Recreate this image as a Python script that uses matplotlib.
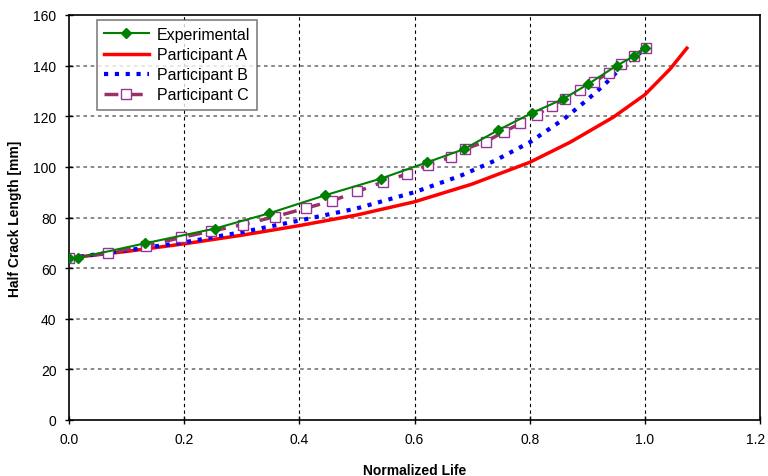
import matplotlib
matplotlib.use("Agg")
import matplotlib.pyplot as plt
import matplotlib.transforms as mtransforms
import numpy as np

plt.rcParams['font.family'] = ['Liberation Sans', 'DejaVu Sans']

# Experimental
exp_x = [0.0, 0.015, 0.132, 0.253, 0.348, 0.445, 0.542, 0.622, 0.686, 0.745, 0.804, 0.858, 0.901, 0.951, 0.981, 1.0]
exp_y = [64.0, 64.0, 69.8, 75.6, 81.7, 88.8, 95.4, 101.8, 107.0, 114.5, 121.3, 126.8, 132.6, 140.0, 143.7, 147.0]

# Participant A
a_x = [0.0, 0.1, 0.2, 0.3, 0.4, 0.5, 0.6, 0.7, 0.8, 0.87, 0.945, 1.0, 1.044, 1.073]
a_y = [64.0, 66.6, 69.6, 73.0, 76.8, 81.0, 86.2, 93.2, 101.8, 109.7, 119.6, 128.5, 138.7, 146.9]

# Participant B
b_x = [0.0, 0.1, 0.2, 0.3, 0.4, 0.5, 0.6, 0.68, 0.74, 0.8, 0.86, 0.9, 0.93, 0.96, 0.98, 1.0]
b_y = [64.0, 67.0, 70.2, 74.2, 78.8, 83.6, 90.0, 96.5, 102.5, 109.7, 119.0, 126.5, 132.5, 139.5, 143.0, 146.5]

# Participant C
c_x = [0.0, 0.067, 0.133, 0.195, 0.247, 0.302, 0.357, 0.412, 0.457, 0.501, 0.546, 0.587, 0.624,
       0.663, 0.688, 0.724, 0.755, 0.784, 0.813, 0.838, 0.862, 0.888, 0.912, 0.937, 0.958, 0.982, 1.002]
c_y = [64.0, 65.9, 68.8, 72.1, 74.6, 77.2, 80.3, 83.7, 86.6, 90.3, 94.1, 97.2, 100.8,
       103.8, 107.1, 110.0, 113.8, 117.2, 120.6, 124.2, 126.8, 130.5, 133.6, 137.2, 140.7, 144.0, 147.0]

x_ticks = [0.0, 0.2, 0.4, 0.6, 0.8, 1.0, 1.2]
y_ticks = [0, 20, 40, 60, 80, 100, 120, 140, 160]

fig = plt.figure(figsize=(7.68, 4.77), dpi=100)
ax = fig.add_axes([69/768, 56/477, 691/768, 405/477])

for xv in x_ticks[1:-1]:
    ax.axvline(xv, color='black', linestyle=(0, (3, 3)), linewidth=0.8, zorder=1)
for yv in y_ticks[1:-1]:
    ax.axhline(yv, color='#808080', linestyle=(0, (2, 2)), linewidth=1.3, zorder=1)

ax.plot(exp_x, exp_y, color='#008000', linewidth=1.5, marker='D', markersize=5.5,
        markerfacecolor='#008000', markeredgecolor='#008000', label='Experimental', zorder=5)
ax.plot(a_x, a_y, color='#FF0000', linewidth=2.5, label='Participant A', zorder=3)
ax.plot(b_x, b_y, color='#0000FF', linewidth=3, linestyle=(0, (1, 1.6)), label='Participant B', zorder=3)
ax.plot(c_x, c_y, color='#993366', linewidth=2.5, linestyle=(0, (4, 3)), marker='s', markersize=7,
        markerfacecolor='white', markeredgecolor='#993399', markeredgewidth=1.0, label='Participant C', zorder=4)

ax.set_xlim(0, 1.2)
ax.set_ylim(0, 160)
ax.set_xticks(x_ticks)
ax.set_xticklabels([f"{v:.1f}" for v in x_ticks])
ax.set_yticks(y_ticks)
ax.tick_params(direction='inout', length=6, width=1, labelsize=10, pad=6)
for s in ax.spines.values():
    s.set_linewidth(1.2)
    s.set_color('black')

# keep last tick label inside the canvas
last = ax.get_xticklabels()[-1]
last.set_transform(last.get_transform() + mtransforms.ScaledTranslation(-4/100, 0, fig.dpi_scale_trans))

ax.set_xlabel('Normalized Life', fontsize=10, fontweight='bold', labelpad=12)
ax.set_ylabel('Half Crack Length [mm]', fontsize=10, fontweight='bold', labelpad=8)

leg = ax.legend(loc='upper left', bbox_to_anchor=(0.04, 0.988), fontsize=11.5, frameon=True,
                fancybox=False, edgecolor='#606060', handlelength=2.8, handletextpad=0.5,
                borderpad=0.45, labelspacing=0.32, borderaxespad=0)
leg.get_frame().set_linewidth(1.2)

fig.savefig('out.png', dpi=100)
